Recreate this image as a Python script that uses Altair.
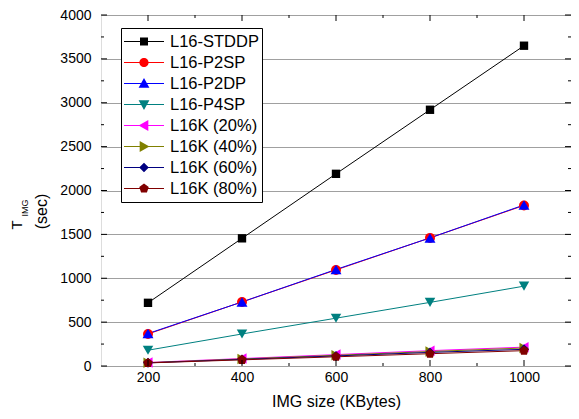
import altair as alt
import pandas as pd

FONT = "Liberation Sans, Arial, sans-serif"

# ---------------- data ----------------
x_vals = [200, 400, 600, 800, 1000]
series_names = ["L16-STDDP", "L16-P2SP", "L16-P2DP", "L16-P4SP",
                "L16K (20%)", "L16K (40%)", "L16K (60%)", "L16K (80%)"]
stddp = [720, 1455, 2190, 2920, 3650]
p2sp = [365, 730, 1095, 1460, 1830]
p2dp = [370, 730, 1100, 1460, 1835]
p4sp = [180, 365, 545, 725, 910]
k20 = [40, 85, 130, 175, 215]
k40 = [38, 80, 122, 165, 205]
k60 = [36, 75, 115, 155, 190]
k80 = [35, 70, 105, 140, 175]
series_values = [stddp, p2sp, p2dp, p4sp, k20, k40, k60, k80]

colors = ["#000000", "#ff0000", "#0000ff", "#008080",
          "#ff00ff", "#808000", "#000080", "#800000"]

x_major = [200, 400, 600, 800, 1000]
x_minor = [300, 500, 700, 900]
y_major = [0, 500, 1000, 1500, 2000, 2500, 3000, 3500, 4000]
y_minor = [250, 750, 1250, 1750, 2250, 2750, 3250, 3750]

# ---------------- styles ----------------
PENT = "M0,-1L0.951,-0.309L0.588,0.809L-0.588,0.809L-0.951,-0.309Z"
plot_shapes = ["square", "circle", "triangle-up", "triangle-down",
               "triangle-left", "triangle-right", "diamond", PENT]
plot_sizes = [70, 100, 120, 110, 110, 110, 100, 100]


def legend_path(marker):
    line = "M-1,-0.025H1V0.025H-1Z"
    return line + marker


s, r, h, d, p = 0.2, 0.23, 0.27, 0.24, 0.25
legend_markers = [
    f"M{-s},{-s}H{s}V{s}H{-s}Z",
    f"M{-r},0A{r},{r} 0 1,1 {r},0A{r},{r} 0 1,1 {-r},0Z",
    f"M0,{-h}L{h},{h * 0.8}L{-h},{h * 0.8}Z",
    f"M{-h},{-h * 0.8}L{h},{-h * 0.8}L0,{h}Z",
    f"M{-h},0L{h * 0.8},{-h}L{h * 0.8},{h}Z",
    f"M{h},0L{-h * 0.8},{h}L{-h * 0.8},{-h}Z",
    f"M0,{-d}L{d},0L0,{d}L{-d},0Z",
    f"M0,{-p}L{0.951 * p},{-0.309 * p}L{0.588 * p},{0.809 * p}L{-0.588 * p},{0.809 * p}L{-0.951 * p},{-0.309 * p}Z",
]
legend_shapes = [legend_path(m) for m in legend_markers]

rows = []
for name, vals in zip(series_names, series_values):
    for xv, yv in zip(x_vals, vals):
        rows.append({"series": name, "size": xv, "time": yv})
df = pd.DataFrame(rows)

W, H = 470, 351
PAD_L = 93
xscale = alt.Scale(domain=[100, 1100], nice=False, zero=False)
yscale = alt.Scale(domain=[0, 4000], nice=False)

x_enc = alt.X("size:Q", scale=xscale,
              axis=alt.Axis(title="IMG size (KBytes)", values=x_major, ticks=False,
                            domain=False, grid=False, labelFontSize=14, labelFont=FONT,
                            labelColor="black", labelPadding=4, titleFontSize=16,
                            titleFont=FONT, titleFontWeight="normal", titleColor="black",
                            titlePadding=9, format="d"))
y_enc = alt.Y("time:Q", scale=yscale,
              axis=alt.Axis(title="(sec)", values=y_major, ticks=False, domain=False,
                            grid=True, gridColor="#a0a0a0", gridWidth=1,
                            labelFontSize=14, labelFont=FONT, labelColor="black",
                            labelPadding=10, titleFontSize=16, titleFont=FONT,
                            titleFontWeight="normal", titleColor="black",
                            titleX=-60, titleY=196, titleAlign="center",
                            titleBaseline="middle", titleAngle=270, format="d"))

base = alt.Chart(df)
layers = []
for name, col in zip(series_names, colors):
    layers.append(base.transform_filter(alt.datum.series == name)
                  .mark_line(color=col, strokeWidth=1)
                  .encode(x=x_enc, y=y_enc))
for name, col, shp, sz in zip(series_names, colors, plot_shapes, plot_sizes):
    layers.append(base.transform_filter(alt.datum.series == name)
                  .mark_point(shape=shp, size=sz, filled=True, opacity=1, color=col)
                  .encode(x="size:Q", y="time:Q"))

leg = alt.Legend(title=None, orient="none", legendX=20, legendY=13, direction="vertical",
                 symbolSize=1600, symbolStrokeWidth=0, labelFontSize=16.5, labelFont=FONT,
                 labelColor="black", labelOffset=6, labelLimit=300, clipHeight=21,
                 strokeColor="black", fillColor="white", padding=3, rowPadding=0)
legend_layer = base.transform_filter("false").mark_point(filled=True, opacity=1).encode(
    x="size:Q", y="time:Q",
    color=alt.Color("series:N", scale=alt.Scale(domain=series_names, range=colors),
                    legend=leg, sort=series_names),
    shape=alt.Shape("series:N", scale=alt.Scale(domain=series_names, range=legend_shapes),
                    legend=leg, sort=series_names),
)
layers.append(legend_layer)

# inward ticks on all four sides
xt_major = pd.DataFrame({"v": x_major})
xt_minor = pd.DataFrame({"v": x_minor})
yt_major = pd.DataFrame({"v": y_major})
yt_minor = pd.DataFrame({"v": y_minor})
for dfx, L in ((xt_major, 6), (xt_minor, 3)):
    c = alt.Chart(dfx).mark_rule(color="black", strokeWidth=1)
    layers.append(c.encode(x="v:Q", y=alt.value(H), y2=alt.value(H - L)))
    layers.append(c.encode(x="v:Q", y=alt.value(0), y2=alt.value(L)))
for dfy, L in ((yt_major, 6), (yt_minor, 3)):
    c = alt.Chart(dfy).mark_rule(color="black", strokeWidth=1)
    layers.append(c.encode(y="v:Q", x=alt.value(0), x2=alt.value(L)))
    layers.append(c.encode(y="v:Q", x=alt.value(W), x2=alt.value(W - L)))

# T with subscript IMG (first line of the y title)
title_main = pd.DataFrame({"t": ["T"]})
title_sub = pd.DataFrame({"t": ["IMG"]})
layers.append(alt.Chart(title_main).mark_text(angle=270, fontSize=15, font=FONT, color="black",
                                              align="center", baseline="middle")
              .encode(text="t:N", x=alt.value(-84), y=alt.value(210)))
layers.append(alt.Chart(title_sub).mark_text(angle=270, fontSize=9, font=FONT, color="black",
                                             align="center", baseline="middle")
              .encode(text="t:N", x=alt.value(-76), y=alt.value(193)))

chart = alt.layer(*layers).properties(
    width=W, height=H,
    padding={"left": PAD_L, "top": 7, "right": 0, "bottom": 45},
    autosize=alt.AutoSizeParams(type="none"),
).configure_view(stroke="black", strokeWidth=1.3).configure(background="white")

chart.save("out.html", embed_options={"renderer": "svg", "actions": False})
